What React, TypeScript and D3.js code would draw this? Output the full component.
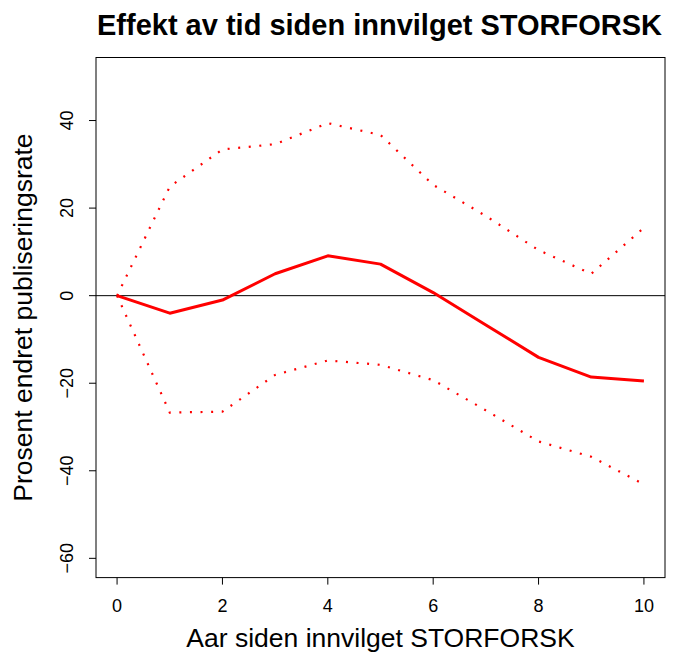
import React from "react";
import * as d3 from "d3";

const years = [0, 1, 2, 3, 4, 5, 6, 7, 8, 9, 10];
const estimate = [0, -4.0, -1.0, 5.0, 9.1, 7.2, 0.7, -6.7, -14.1, -18.6, -19.5];
const upper = [0, 24.9, 33.4, 34.6, 39.4, 36.7, 25.3, 18.2, 10.4, 5.0, 15.5];
const lower = [0, -26.7, -26.5, -18.1, -14.8, -15.8, -19.3, -26.2, -33.3, -36.8, -43.1];
const xTicks = [0, 2, 4, 6, 8, 10];
const yTicks = [-60, -40, -20, 0, 20, 40];

const title = "Effekt av tid siden innvilget STORFORSK";
const xLabel = "Aar siden innvilget STORFORSK";
const yLabel = "Prosent endret publiseringsrate";

export default function App() {
  const W = 681, H = 655;
  const left = 96, right = 665, top = 57.5, bottom = 577.6;
  const xlim = [0, 10], ylim = [-60, 50];
  const xr = (xlim[1] - xlim[0]) * 0.04;
  const yr = (ylim[1] - ylim[0]) * 0.04;
  const x = d3.scaleLinear().domain([xlim[0] - xr, xlim[1] + xr]).range([left, right]);
  const y = d3.scaleLinear().domain([ylim[0] - yr, ylim[1] + yr]).range([bottom, top]);
  const line = d3.line<number>().x((_, i) => x(years[i])).y((d) => y(d));
  const font = "'Liberation Sans', Arial, Helvetica, sans-serif";

  return (
    <svg width={W} height={H} style={{ position: "absolute", left: 0, top: 0, background: "#fff" }} fontFamily={font}>
      <rect x={0} y={0} width={W} height={H} fill="#fff" />
      <text x={(left + right) / 2 - 1} y={35} textAnchor="middle" fontSize={29} fontWeight="bold">{title}</text>
      <line x1={left} x2={right} y1={y(0)} y2={y(0)} stroke="#000" strokeWidth={1} />
      <path d={line(upper) || ""} fill="none" stroke="#ff0000" strokeWidth={2.2} strokeDasharray="2 8.6" />
      <path d={line(lower) || ""} fill="none" stroke="#ff0000" strokeWidth={2.2} strokeDasharray="2 8.6" />
      <path d={line(estimate) || ""} fill="none" stroke="#ff0000" strokeWidth={3} strokeLinejoin="round" />
      <rect x={left} y={top} width={right - left} height={bottom - top} fill="none" stroke="#000" strokeWidth={1} />
      {xTicks.map((t) => (
        <g key={"x" + t}>
          <line x1={x(t)} x2={x(t)} y1={bottom} y2={bottom + 7} stroke="#000" />
          <text x={x(t)} y={612} textAnchor="middle" fontSize={18}>{t}</text>
        </g>
      ))}
      {yTicks.map((t) => (
        <g key={"y" + t}>
          <line x1={left} x2={left - 7} y1={y(t)} y2={y(t)} stroke="#000" />
          <text transform={`translate(73,${y(t)}) rotate(-90)`} textAnchor="middle" fontSize={18}>{t < 0 ? "\u2212" + Math.abs(t) : t}</text>
        </g>
      ))}
      <text x={(left + right) / 2} y={647} textAnchor="middle" fontSize={26.5}>{xLabel}</text>
      <text transform={`translate(32,${(top + bottom) / 2}) rotate(-90)`} textAnchor="middle" fontSize={26.5}>{yLabel}</text>
    </svg>
  );
}
